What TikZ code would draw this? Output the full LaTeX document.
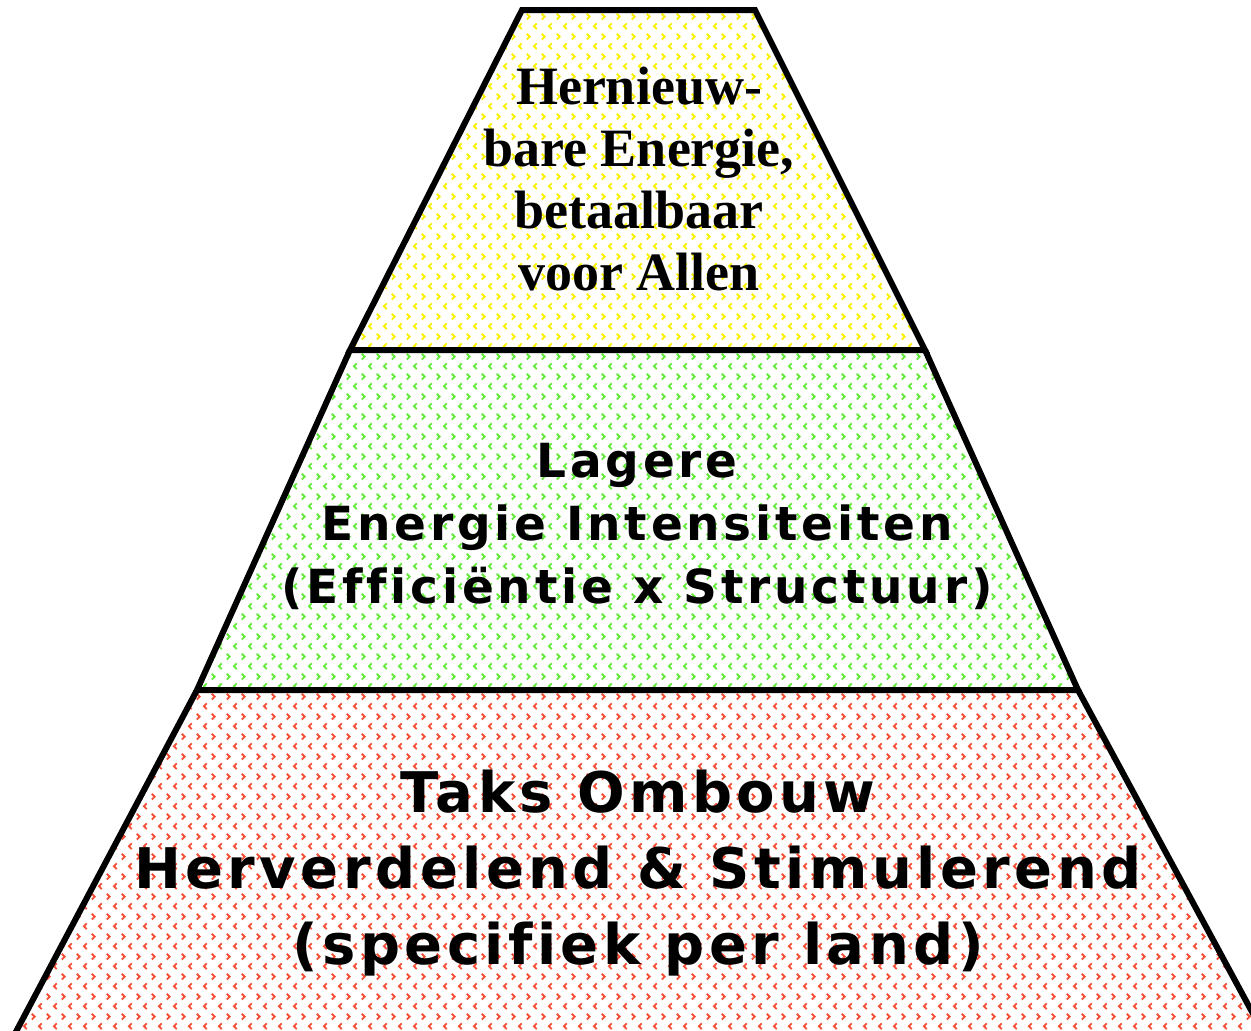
\documentclass[tikz,border=0pt]{standalone}
\usepackage{fontspec}
\usetikzlibrary{patterns}
\newfontfamily\tierserif{Liberation Serif}
\newfontfamily\tiersans{DejaVu Sans}[LetterSpace=8, Ligatures=CommonOff]

\definecolor{tieryellow}{RGB}{250,240,0}
\definecolor{tiergreen}{RGB}{100,235,60}
\definecolor{tierred}{RGB}{245,80,55}

% small chevron dots used as fill
\pgfdeclarepatternformonly{chevrondots}{\pgfpointorigin}{\pgfpoint{15pt}{20pt}}{\pgfpoint{15pt}{20pt}}{
	\pgfsetlinewidth{2pt}
	\pgfpathmoveto{\pgfpoint{2pt}{18pt}}\pgfpathlineto{\pgfpoint{5pt}{15pt}}\pgfpathlineto{\pgfpoint{2pt}{12pt}}
	\pgfusepath{stroke}
	\pgfpathmoveto{\pgfpoint{12.5pt}{8pt}}\pgfpathlineto{\pgfpoint{9.5pt}{5pt}}\pgfpathlineto{\pgfpoint{12.5pt}{2pt}}
	\pgfusepath{stroke}
}

\tikzset{
	tierfill/.style={pattern=chevrondots, pattern color=#1},
	tierline/.style={draw=black, line width=6pt, line join=miter},
	tiertext/.style={anchor=north, inner sep=0pt, align=center, text=black}
}

\begin{document}
\begin{tikzpicture}[x=1pt,y=1pt,yscale=-1,xscale=1]
	\useasboundingbox (0,0) rectangle (1251,1031);
	
	%Trapezoid top [id:top]
	\fill[tierfill=tieryellow] (522,10) -- (755,10) -- (925,350) -- (350,350) -- cycle ;
	%Trapezoid middle [id:mid]
	\fill[tierfill=tiergreen] (350,350) -- (925,350) -- (1078,690) -- (197,690) -- cycle ;
	%Trapezoid bottom [id:bot]
	\fill[tierfill=tierred] (197,690) -- (1078,690) -- (1278,1060) -- (1,1060) -- cycle ;
	
	%Outlines
	\draw[tierline] (350,350) -- (522,10) -- (755,10) -- (925,350) -- cycle ;
	\draw[tierline] (197,690) -- (350,350) (925,350) -- (1078,690) -- (197,690) ;
	\draw[tierline] (1,1060) -- (197,690) (1078,690) -- (1278,1060) ;
	
	% Text Node
	\node[tiertext, font=\tierserif\bfseries\fontsize{54}{62}\selectfont] (toptext) at (639,67)
		{Hernieuw-\\bare Energie,\\betaalbaar\\voor Allen};
	% Text Node
	\node[tiertext, font=\tiersans\bfseries\fontsize{47}{63}\selectfont] (midtext) at (637,443)
		{Lagere\\Energie Intensiteiten\\(Efficiëntie x Structuur)};
	% Text Node
	\node[tiertext, font=\tiersans\bfseries\fontsize{56}{76}\selectfont] (bottext) at (638,770)
		{Taks Ombouw\\Herverdelend \& Stimulerend\\(specifiek per land)};
	
\end{tikzpicture}
\end{document}
